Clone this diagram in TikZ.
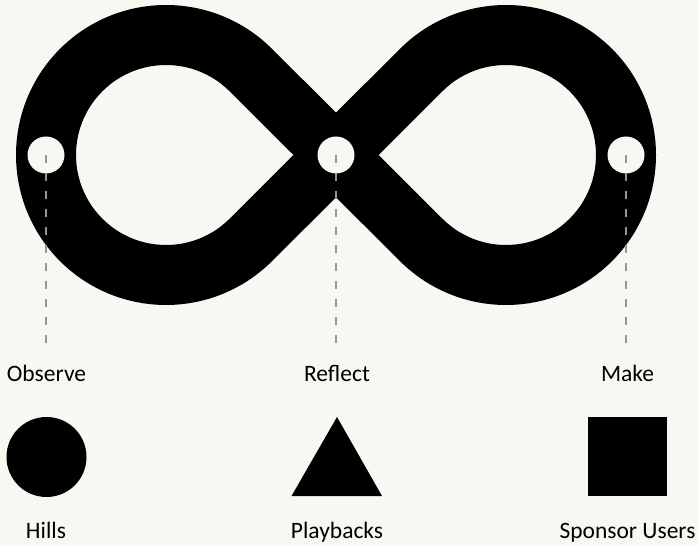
\documentclass[tikz,border=0pt]{standalone}
\usepackage{fontspec}
\setmainfont{Carlito}
\usetikzlibrary{calc}
\definecolor{bg}{RGB}{248,248,243}
\definecolor{dashgray}{RGB}{150,150,150}
\tikzset{
  loopband/.style={draw=black, line width=60pt, line join=round},
  hole/.style={circle, fill=bg, draw=none, minimum size=37pt, inner sep=0pt},
  guide/.style={draw=dashgray, line width=1.8pt, dash pattern=on 8pt off 10pt},
  lbl/.style={font=\fontsize{23.5pt}{26pt}\selectfont, text=black, inner sep=0pt, anchor=base},
}
\begin{document}
\begin{tikzpicture}[x=1pt,y=1pt]
\fill[bg] (0,0) rectangle (698,546);
\useasboundingbox (0,0) rectangle (698,546);
\coordinate (L) at (166,391);
\coordinate (C) at (336,391);
\coordinate (R) at (506,391);
% infinity band
\draw[loopband] ($(L)+(45:120)$) arc[start angle=45, end angle=315, radius=120pt]
  -- ($(R)+(135:120)$) arc[start angle=135, end angle=-135, radius=120pt] -- cycle;
% holes
\node[hole] (obs) at (46,391) {};
\node[hole] (ref) at (336,391) {};
\node[hole] (mak) at (626,391) {};
% labels
\node[lbl] (obsl) at (46.5,164) {Observe};
\node[lbl] (refl) at (337,164) {Reflect};
\node[lbl] (makl) at (627.5,164) {Make};
% guides
\draw[guide] (obs.center) -- (46,193);
\draw[guide] (ref.center) -- (336,193);
\draw[guide] (mak.center) -- (626,193);
% legend shapes
\node[circle, fill=black, minimum size=80pt, inner sep=0pt] (hillsym) at (46.5,89) {};
\coordinate (pa) at (337,129);
\coordinate (pb) at (291.5,50);
\coordinate (pc) at (382,50);
\fill[black] (pa) -- (pb) -- (pc) -- cycle;
\node[rectangle, fill=black, minimum width=79pt, minimum height=79pt, inner sep=0pt] (susym) at (627.5,89.5) {};
\node[lbl] (hillsl) at (46,8) {Hills};
\node[lbl] (playl) at (337,8) {Playbacks};
\node[lbl] (spl) at (627.5,8) {Sponsor Users};
\end{tikzpicture}
\end{document}
